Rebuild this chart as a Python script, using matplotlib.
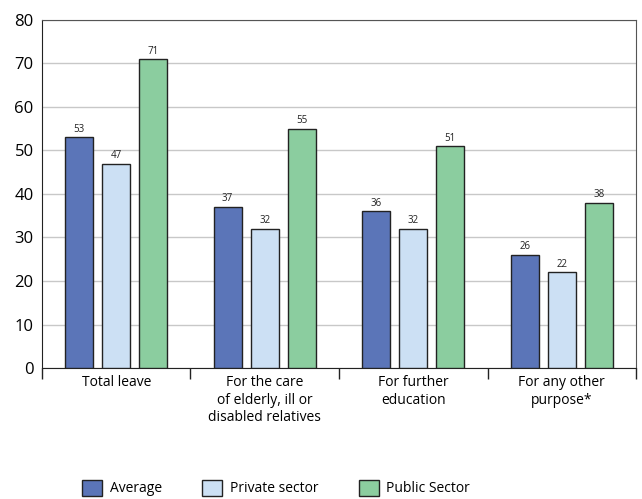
import numpy as np
import matplotlib.pyplot as plt
from matplotlib.patches import Patch

plt.rcParams['font.family'] = ['Open Sans', 'DejaVu Sans']

# data
categories = ['Total leave', 'For the care\nof elderly, ill or\ndisabled relatives',
              'For further\neducation', 'For any other\npurpose*']
series_names = ['Average', 'Private sector', 'Public Sector']
average = [53, 37, 36, 26]
private = [47, 32, 32, 22]
public = [71, 55, 51, 38]
colors = ['#5b75b8', '#cce0f4', '#8bcd9f']

fig = plt.figure(figsize=(6.42, 4.99), dpi=100)
ax = fig.add_axes([0.0654, 0.2625, 0.9253, 0.6975])

x = np.arange(len(categories))
width = 0.19
step = 0.25
for i, (vals, col) in enumerate(zip([average, private, public], colors)):
    pos = x + (i - 1) * step
    ax.bar(pos, vals, width, color=col, edgecolor='#222222', linewidth=1.0, zorder=3)
    for p, v in zip(pos, vals):
        ax.text(p, v + 0.6, str(v), ha='center', va='bottom', fontsize=7, color='#222222')

ax.set_xlim(-0.5, len(categories) - 0.5)
ax.set_ylim(0, 80)
ax.set_yticks(range(0, 81, 10))
ax.tick_params(axis='y', labelsize=12, length=0, pad=6)
ax.yaxis.grid(True, color='#c8c8c8', linewidth=1.0, zorder=0)

ax.set_xticks(x)
ax.set_xticklabels(categories, fontsize=10, linespacing=1.25)
ax.tick_params(axis='x', which='major', length=0, pad=5)
ax.set_xticks(np.arange(-0.5, len(categories)), minor=True)
ax.tick_params(axis='x', which='minor', length=8, width=1, color='#222222')

for s in ['top', 'right']:
    ax.spines[s].set_color('#555555')
for s in ['left', 'bottom']:
    ax.spines[s].set_color('#222222')

handles = [Patch(facecolor=c, edgecolor='#222222', linewidth=1.0) for c in colors]
fig.legend(handles, series_names, loc='lower center', bbox_to_anchor=(0.43, -0.02),
           ncol=3, frameon=False, fontsize=10, handlelength=1.45, handleheight=1.45,
           columnspacing=2.9, handletextpad=0.55)

fig.savefig('out.png', dpi=100)
